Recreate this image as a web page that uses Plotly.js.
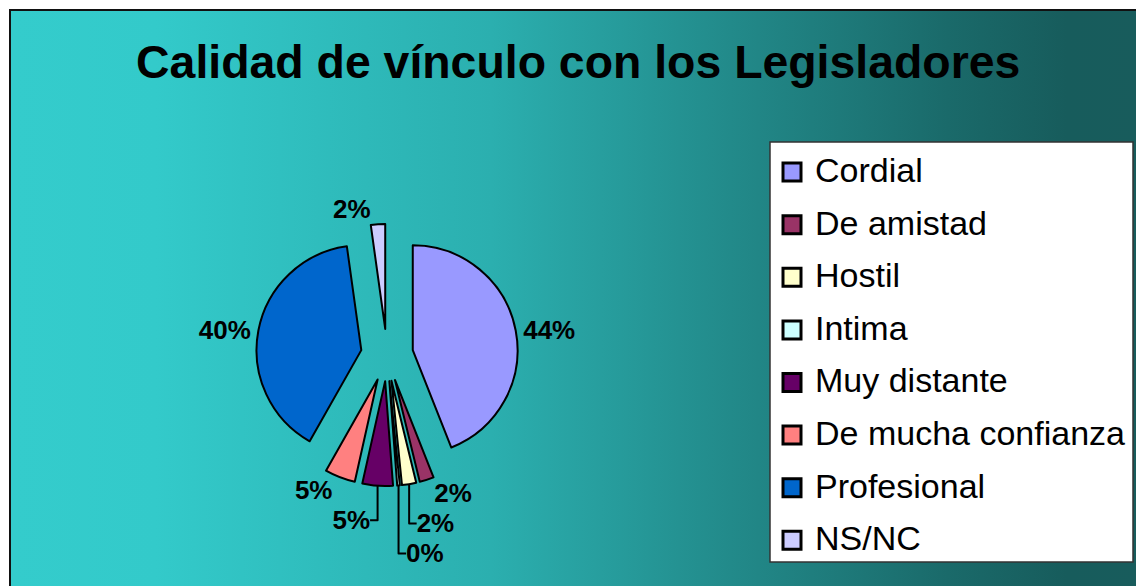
<!DOCTYPE html>
<html>
<head>
<meta charset="utf-8">
<script src="https://cdn.plot.ly/plotly-3.0.1.min.js"></script>
<style>
  html, body { margin: 0; padding: 0; background: #ffffff; overflow: hidden; }
  #bg {
    position: absolute; left: 9px; top: 9px; width: 1200px; height: 700px;
    border-left: 2px solid #111; border-top: 2px solid #111;
    background: linear-gradient(to right, #34CCCC 0%, #33CACA 12%, #2BAFAF 40%, #228A8A 60%, #1A6A6A 78%, #175C5C 88%, #195C5C 100%);
  }
  #chart { position: absolute; left: 0; top: 0; width: 1136px; height: 586px; }
  #chart .legendpoints path { transform: translate(22px, 5px) scale(1.5); }
</style>
</head>
<body>
<div id="bg"></div>
<div id="chart"></div>
<script>
var categories = ["Cordial", "De amistad", "Hostil", "Intima", "Muy distante", "De mucha confianza", "Profesional", "NS/NC"];
var values = [44, 2.2, 2.2, 0.4, 4.7, 4.7, 39.6, 2.2];
var colors = ["#9999FF", "#993366", "#FFFFCC", "#CCFFFF", "#660066", "#FF8080", "#0066CC", "#CCCCFF"];
var titleText = "Calidad de vínculo con los Legisladores";

var FONT = "Liberation Sans, Arial, sans-serif";

// legend text drawn at 34px while the row height follows the legend font size
var legendLabels = categories.map(function (c) { return '<span style="font-size:34px">' + c + '</span>'; });

var trace = {
  type: "pie",
  labels: legendLabels,
  customdata: categories,
  values: values,
  sort: false,
  direction: "clockwise",
  rotation: 0,
  pull: 0.25,
  marker: { colors: colors, line: { color: "#000000", width: 2 } },
  textposition: "outside",
  texttemplate: "%{percent:.0%}",
  outsidetextfont: { family: FONT, size: 26, color: "#000000", weight: "bold" },
  textfont: { family: FONT, size: 26, color: "#000000", weight: "bold" },
  domain: { x: [0.2254, 0.4560], y: [0.1706, 0.6177] },
  automargin: false,
  hovertemplate: "%{customdata}: %{percent}<extra></extra>"
};

var layout = {
  width: 1136,
  height: 586,
  margin: { l: 0, r: 0, t: 0, b: 0, autoexpand: false },
  paper_bgcolor: "rgba(0,0,0,0)",
  plot_bgcolor: "rgba(0,0,0,0)",
  title: {
    text: titleText,
    x: 0.509, xref: "paper", xanchor: "center",
    y: 0.895, yref: "paper", yanchor: "middle",
    font: { family: FONT, size: 46.4, color: "#000000", weight: "bold" }
  },
  showlegend: true,
  legend: {
    x: 770 / 1136, xanchor: "left",
    y: 1 - 135.8 / 586, yanchor: "top",
    bgcolor: "rgba(0,0,0,0)",
    borderwidth: 0,
    itemwidth: 35,
    traceorder: "normal",
    font: { family: FONT, size: 38.15, color: "#000000" }
  },
  shapes: [{
    type: "rect", xref: "paper", yref: "paper", layer: "above",
    x0: 770 / 1136, x1: 1133 / 1136, y0: 1 - 562 / 586, y1: 1 - 142 / 586,
    fillcolor: "#ffffff", line: { color: "#333333", width: 1.5 }
  }]
};

Plotly.newPlot("chart", [trace], layout, { displayModeBar: false, staticPlot: true });
</script>
</body>
</html>
